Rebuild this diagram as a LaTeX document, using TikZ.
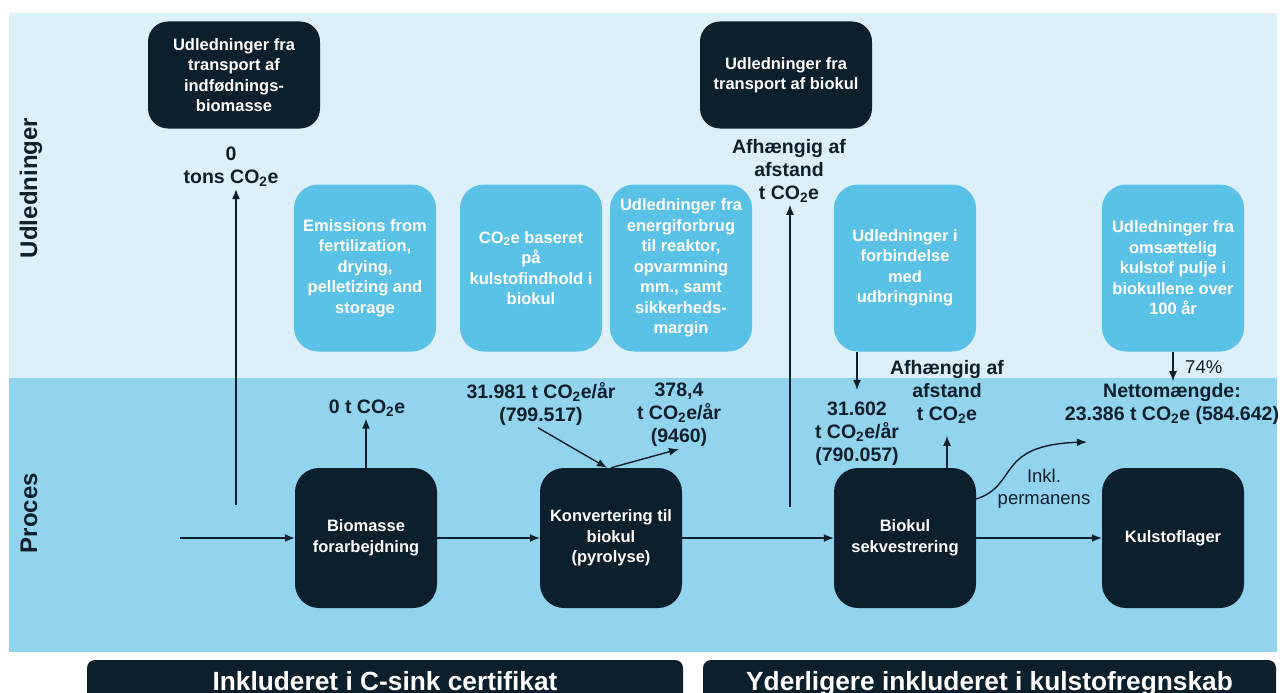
\documentclass[tikz,border=0pt]{standalone}
\usepackage{fontspec}
\setmainfont{Liberation Sans}
\usepackage{tikz}
\usetikzlibrary{positioning,arrows.meta}
\definecolor{dkblue}{HTML}{0B1F2C}
\definecolor{ltblue}{HTML}{5BC2E7}
\definecolor{topband}{HTML}{DDEFF9}
\definecolor{lowband}{HTML}{92D3EE}
\newcommand{\boxfont}{\fontsize{16.5}{20.5}\selectfont\bfseries}
\newcommand{\valfont}{\fontsize{19.5}{23}\selectfont\bfseries}
\newcommand{\notefont}{\fontsize{18.5}{22}\selectfont}
\newcommand{\coe}{CO\textsubscript{2}e}
\tikzstyle{proc} = [rectangle, rounded corners=24pt, minimum width=142pt, minimum height=140pt, inner sep=2pt, align=center, fill=dkblue, text=white, font=\boxfont]
\tikzstyle{emis} = [rectangle, rounded corners=24pt, minimum width=142pt, minimum height=167pt, inner sep=2pt, align=center, fill=ltblue, text=white, font=\boxfont]
\tikzstyle{trans} = [rectangle, rounded corners=20pt, minimum width=172pt, minimum height=107pt, inner sep=2pt, align=center, fill=dkblue, text=white, font=\boxfont]
\tikzstyle{val} = [align=center, inner sep=2pt, text=dkblue, font=\valfont]
\tikzstyle{arrow} = [line width=1.4pt, draw=dkblue, -{Latex[length=10pt,width=8pt]}]
\tikzset{
 lane/.style
  = {rotate=90, text=dkblue, font=\fontsize{24}{28}\selectfont\bfseries},
 note/.style
  = {align=center, inner sep=2pt, text=dkblue, font=\notefont},
 banner/.style
  = {rectangle, rounded corners=8pt, fill=dkblue, text=white, minimum height=46pt,
     text height=19pt, text depth=5pt, font=\fontsize{26.3}{30}\selectfont\bfseries},
}
\begin{document}
\begin{tikzpicture}[x=1pt, y=-1pt, node distance=245pt]
\useasboundingbox (0,0) rectangle (1282,693);
\fill[white] (0,0) rectangle (1282,693);
\fill[topband] (9,13) rectangle (1277,378);
\fill[lowband] (9,378) rectangle (1277,652);
\node (udl) [lane] at (31,188) {Udledninger};
\node (proces) [lane] at (29,513) {Proces};
% process chain
\node (bio) [proc] at (366,538) {Biomasse\\forarbejdning};
\node (pyro) [proc, right of=bio] {Konvertering til\\biokul\\(pyrolyse)};
\node (seq) [proc, right of=pyro, xshift=49pt] {Biokul\\sekvestrering};
\node (lager) [proc, right of=seq, xshift=23pt] {Kulstoflager};
% emission boxes
\node (fert) [emis] at (365,268) {Emissions from\\fertilization,\\drying,\\pelletizing and\\storage};
\node (kulst) [emis] at (531,268) {\coe{} baseret\\på\\kulstofindhold i\\biokul};
\node (energi) [emis] at (681,268) {Udledninger fra\\energiforbrug\\til reaktor,\\opvarmning\\mm., samt\\sikkerheds-\\margin};
\node (udbr) [emis] at (905,268) {Udledninger i\\forbindelse\\med\\udbringning};
\node (pulje) [emis] at (1173,268) {Udledninger fra\\omsættelig\\kulstof pulje i\\biokullene over\\100 år};
\node (trbio) [trans] at (234,75) {Udledninger fra\\transport af\\indfødnings-\\biomasse};
\node (trkul) [trans] at (786,75) {Udledninger fra\\transport af biokul};
% values
\node (trbioval) [val] at (231,167) {0\\tons \coe};
\node (trkulval) [val] at (789,171) {Afhængig af\\afstand\\t \coe};
\node (bioval) [val] at (367,408) {0 t \coe};
\node (pyroin) [val] at (541,404) {31.981 t \coe/år\\(799.517)};
\node (pyroout) [val] at (679,415) {378,4\\t \coe/år\\(9460)};
\node (seqin) [val] at (857,434) {31.602\\t \coe/år\\(790.057)};
\node (seqout) [val] at (947,392) {Afhængig af\\afstand\\t \coe};
\node (netto) [val] at (1172,404) {Nettomængde:\\23.386 t \coe{} (584.642)};
\node (pct) [note, anchor=west] at (1183,367) {74\%};
\node (inkl) [note] at (1044,489) {Inkl.\\permanens};
\coordinate (start) at (180,538);
\coordinate (trbiofoot) at (236,505);
\coordinate (trkulfoot) at (790,507);
\coordinate (nettip) at (1087,442);
\draw [arrow] (start) -- (bio);
\draw [arrow] (bio) -- (pyro);
\draw [arrow] (pyro) -- (seq);
\draw [arrow] (seq) -- (lager);
\draw [arrow] (trbiofoot) -- (trbiofoot |- trbioval.south);
\draw [arrow] (trkulfoot) -- (trkulfoot |- trkulval.south);
\draw [arrow] (bio.north) -- (bio.north |- bioval.south);
\draw [arrow] ([xshift=-3pt]pyroin.south) -- ([xshift=-4pt]pyro.north);
\draw [arrow] (pyro.north) -- (pyroout.south);
\draw [arrow] (udbr.south -| seqin) -- ([yshift=10pt]seqin.north);
\draw [arrow] (seq.north -| seqout) -- ([yshift=-10pt]seqout.south);
\draw [arrow] (pulje.south) -- (pulje.south |- netto.north);
\draw [arrow] ([yshift=39pt]seq.east) .. controls +(43pt,14pt) and +(-92pt,-3pt) .. (nettip);
% bottom banners
\node (csink) [banner, minimum width=596pt] at (385,683) {Inkluderet i C-sink certifikat};
\node (regnskab) [banner, minimum width=573pt] at (989.5,683) {Yderligere inkluderet i kulstofregnskab};
\end{tikzpicture}
\end{document}
